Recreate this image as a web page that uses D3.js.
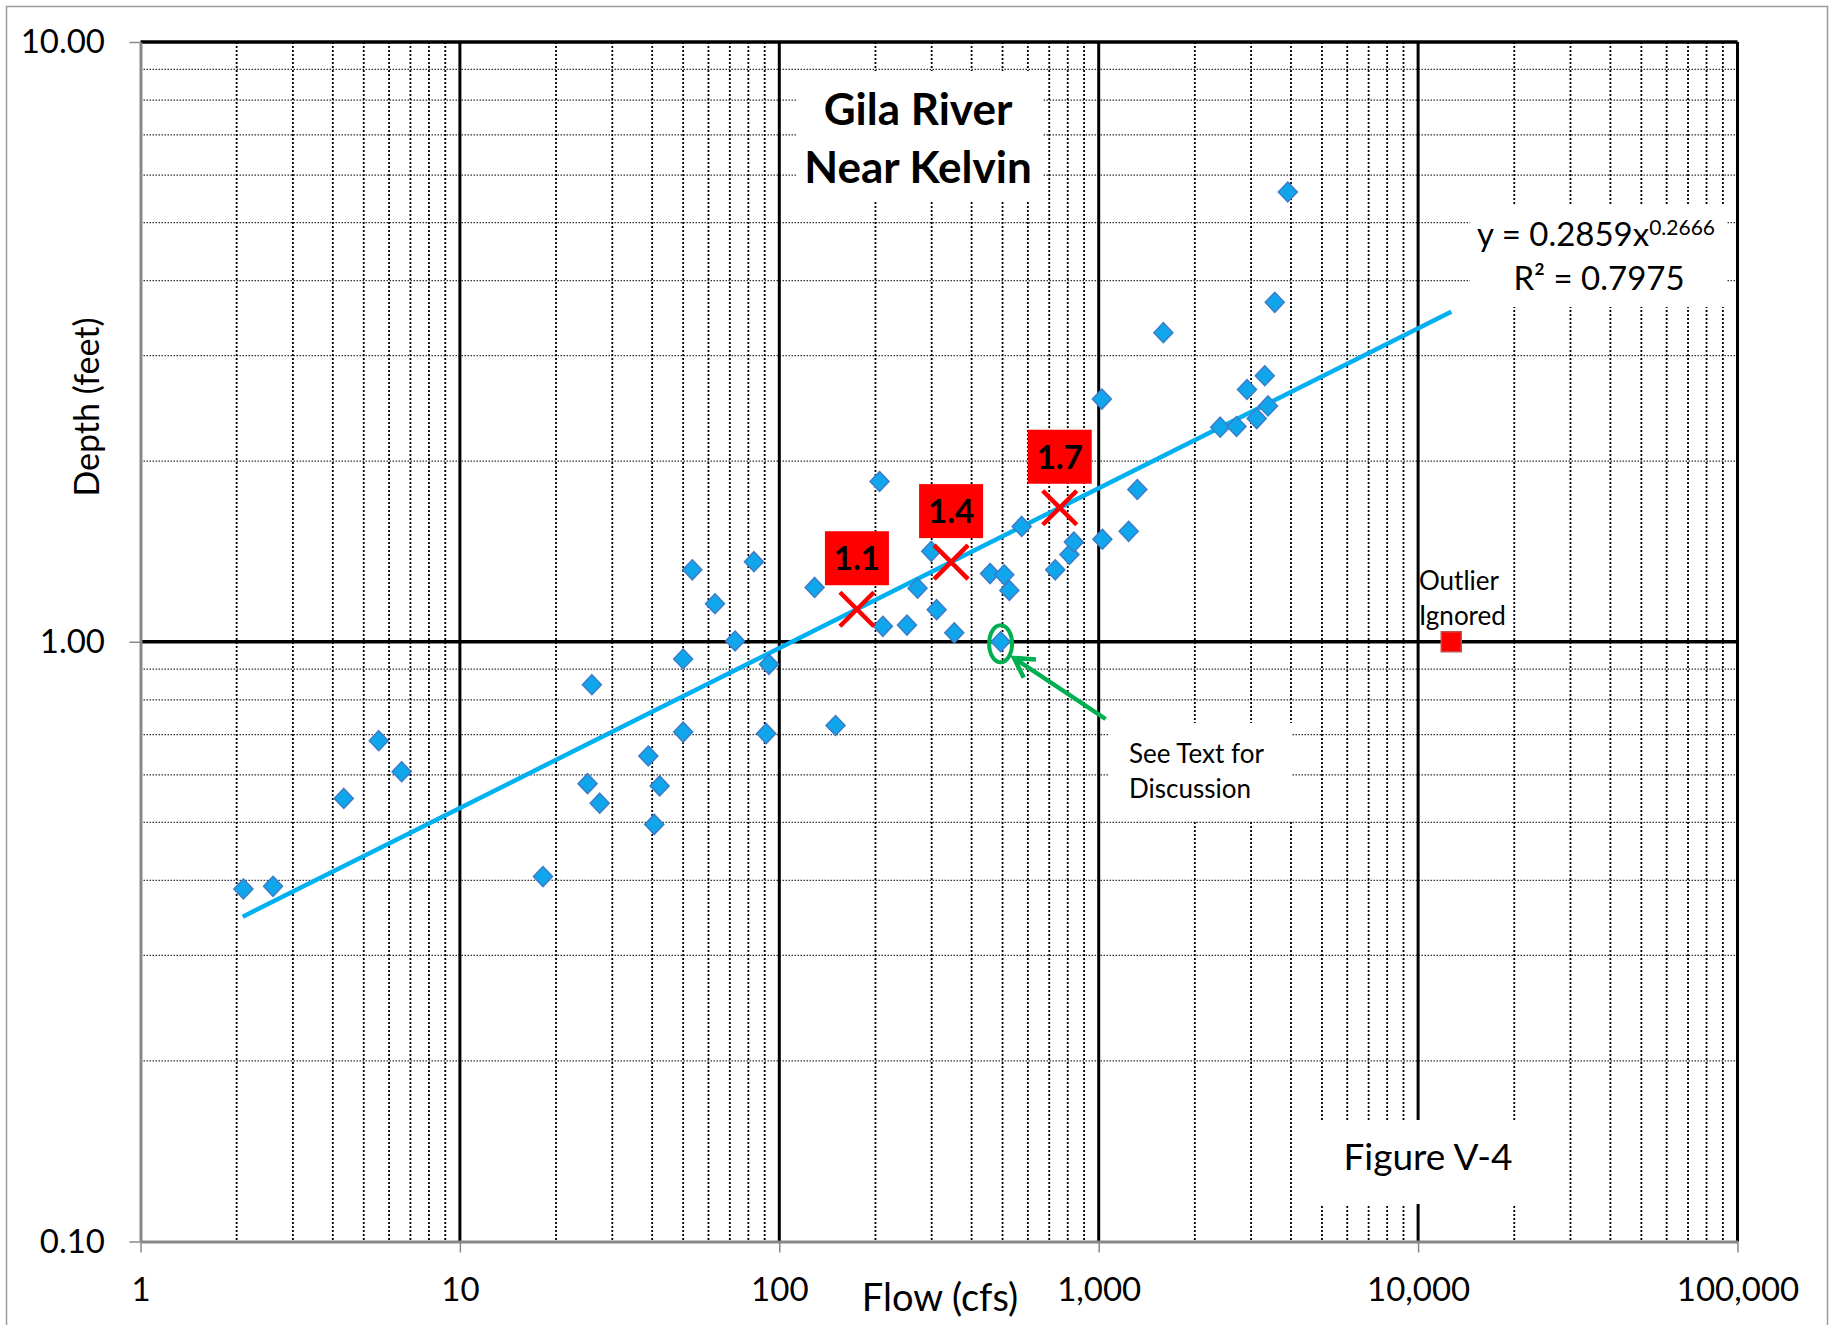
<!DOCTYPE html>
<html>
<head>
<meta charset="utf-8">
<script src="https://cdn.jsdelivr.net/npm/d3@7"></script>
<style>
body { margin: 0; background: #fff; }
text { font-family: Lato, "Open Sans", sans-serif; fill: #000; }
</style>
</head>
<body>
<script>
// measured flows (cfs) and depths (ft)
let flow = [2.10, 2.60, 4.33, 5.57, 6.57, 18.2, 25.1, 25.9, 27.4, 38.9,
    40.6, 42.2, 50.0, 50.0, 53.4, 62.9, 72.7, 83.3, 91.0, 92.8,
    129, 150, 206, 211, 251, 271, 299, 311, 353, 457,
    493, 506, 525, 574, 731, 810, 836, 1027, 1023, 1241,
    1321, 2401, 2701, 2913, 3124, 3311, 3389, 1594, 3558, 3909];
let depth = [0.387, 0.391, 0.548, 0.684, 0.607, 0.406, 0.580, 0.848, 0.538, 0.645,
    0.496, 0.575, 0.936, 0.707, 1.318, 1.157, 1.003, 1.360, 0.703, 0.917,
    1.232, 0.725, 1.850, 1.061, 1.066, 1.228, 1.415, 1.131, 1.035, 1.299,
    1.000, 1.293, 1.218, 1.557, 1.318, 1.398, 1.466, 1.482, 2.539, 1.528,
    1.794, 2.279, 2.285, 2.634, 2.356, 2.777, 2.473, 3.276, 3.681, 5.622];

// red X marks on the trend line
let markFlow = [175, 345, 755];
let markLabels = ["1.1", "1.4", "1.7"];

let outlierFlow = [12700];
let outlierDepth = [1.0];

// power trend line y = a x^b
let fitA = 0.2859, fitB = 0.2666;
let fitRange = [2.09, 12700];

let xTicks = [1, 10, 100, 1000, 10000, 100000];
let yTicks = [0.1, 1, 10];

let svg = d3.select("body").append("svg").attr("width", 1834).attr("height", 1325);

let x = d3.scaleLog().domain([1, 100000]).range([140.5, 1737.5]);
let y = d3.scaleLog().domain([0.1, 10]).range([1241.5, 42]);

svg.append("rect").attr("x", 6.5).attr("y", 6.5).attr("width", 1821).attr("height", 1340)
    .attr("fill", "#fff").attr("stroke", "#9a9a9a").attr("stroke-width", 1.5);

let isDecade = d => Math.abs(Math.log10(d) - Math.round(Math.log10(d))) < 1e-9;

// minor gridlines
svg.selectAll("line.hminor").data(y.ticks().filter(d => !isDecade(d))).enter().append("line")
    .attr("x1", 140.5).attr("x2", 1737.5)
    .attr("y1", d => y(d)).attr("y2", d => y(d))
    .attr("stroke", "#333").attr("stroke-width", 1.3).attr("stroke-dasharray", "1.5,1.5");
svg.selectAll("line.vminor").data(x.ticks().filter(d => !isDecade(d))).enter().append("line")
    .attr("x1", d => x(d)).attr("x2", d => x(d))
    .attr("y1", 42).attr("y2", 1241.5)
    .attr("stroke", "#000").attr("stroke-width", 1.8).attr("stroke-dasharray", "2,2");

// major gridlines
svg.selectAll("line.vmajor").data(xTicks.slice(1)).enter().append("line")
    .attr("x1", d => x(d)).attr("x2", d => x(d))
    .attr("y1", 42).attr("y2", 1241.5)
    .attr("stroke", "#000").attr("stroke-width", 3);
svg.selectAll("line.hmajor").data(yTicks.slice(1)).enter().append("line")
    .attr("x1", 140.5).attr("x2", 1737.5)
    .attr("y1", d => y(d)).attr("y2", d => y(d))
    .attr("stroke", "#000").attr("stroke-width", 3.5);

// white text boxes hide the grid
let boxes = [[797, 71, 245, 129], [1470, 205, 257, 102], [1300, 1120, 250, 84], [1108, 723, 184, 97]];
svg.selectAll("rect.box").data(boxes).enter().append("rect")
    .attr("x", d => d[0]).attr("y", d => d[1]).attr("width", d => d[2]).attr("height", d => d[3])
    .attr("fill", "#fff");

// axes
let xAxis = svg.append("g").attr("transform", "translate(0,1241.5)")
    .call(d3.axisBottom(x).tickValues(xTicks).tickFormat(d3.format(",")).tickSize(11).tickSizeOuter(0).tickPadding(25));
let yAxis = svg.append("g").attr("transform", "translate(140.5,0)")
    .call(d3.axisLeft(y).tickValues(yTicks).tickFormat(d3.format(".2f")).tickSize(11).tickSizeOuter(0).tickPadding(24.5));
[xAxis, yAxis].forEach(g => {
    g.select(".domain").attr("stroke", "#888").attr("stroke-width", 3);
    g.selectAll(".tick line").attr("stroke", "#888").attr("stroke-width", 1.5);
    g.selectAll(".tick text").attr("font-size", 33).attr("font-family", "Lato").attr("fill", "#000");
});

svg.append("text").attr("x", 940).attr("y", 1311).attr("text-anchor", "middle")
    .attr("font-size", 38).text("Flow (cfs)");
svg.append("text").attr("transform", "translate(99,407) rotate(-90)").attr("text-anchor", "middle")
    .attr("font-size", 34).text("Depth (feet)");

// trend line
svg.append("line")
    .attr("x1", x(fitRange[0])).attr("y1", y(fitA * Math.pow(fitRange[0], fitB)))
    .attr("x2", x(fitRange[1])).attr("y2", y(fitA * Math.pow(fitRange[1], fitB)))
    .attr("stroke", "#00b0f0").attr("stroke-width", 4.5);

// data
svg.selectAll("path.pt").data(flow).enter().append("path")
    .attr("d", "M0,-10L9.5,0L0,10L-9.5,0Z")
    .attr("transform", (d, i) => "translate(" + x(d) + "," + y(depth[i]) + ")")
    .attr("fill", "#10a6ec").attr("stroke", "#3d7cc9").attr("stroke-width", 1.5);

// outlier
svg.selectAll("rect.out").data(outlierFlow).enter().append("rect")
    .attr("x", d => x(d) - 10).attr("y", (d, i) => y(outlierDepth[i]) - 10)
    .attr("width", 20).attr("height", 20)
    .attr("fill", "#ff0000").attr("stroke", "#c0504d").attr("stroke-width", 1.5);
svg.append("text").attr("x", 1419).attr("y", 590).attr("font-size", 26).text("Outlier");
svg.append("text").attr("x", 1419).attr("y", 625).attr("font-size", 26).text("Ignored");

// X marks with labels
let mk = svg.selectAll("g.mark").data(markFlow).enter().append("g")
    .attr("transform", d => "translate(" + x(d) + "," + y(fitA * Math.pow(d, fitB)) + ")");
mk.append("path").attr("d", "M-17,-17L17,17M17,-17L-17,17")
    .attr("stroke", "#ff0000").attr("stroke-width", 4.5).attr("fill", "none");
mk.append("rect").attr("x", -32).attr("y", -78).attr("width", 64).attr("height", 54).attr("fill", "#ff0000");
mk.append("text").attr("x", 0).attr("y", -39).attr("text-anchor", "middle")
    .attr("font-size", 33).attr("font-weight", "bold").text((d, i) => markLabels[i]);

// circled point and arrow
svg.append("ellipse").attr("cx", x(493)).attr("cy", y(1.0) + 2).attr("rx", 11.5).attr("ry", 18.5)
    .attr("fill", "none").attr("stroke", "#00b050").attr("stroke-width", 4);
let tail = [1105.6, 719], tip = [1014, 658];
let dx = tail[0] - tip[0], dy = tail[1] - tip[1], len = Math.hypot(dx, dy);
let ux = dx / len, uy = dy / len, c = Math.cos(Math.PI / 6), s = Math.sin(Math.PI / 6);
let arm1 = [tip[0] + 22 * (ux * c - uy * s), tip[1] + 22 * (ux * s + uy * c)];
let arm2 = [tip[0] + 22 * (ux * c + uy * s), tip[1] + 22 * (-ux * s + uy * c)];
svg.append("path")
    .attr("d", "M" + tail + "L" + tip + "M" + arm1 + "L" + tip + "L" + arm2)
    .attr("stroke", "#00b050").attr("stroke-width", 4.5).attr("fill", "none");
svg.append("text").attr("x", 1129).attr("y", 763).attr("font-size", 26).text("See Text for");
svg.append("text").attr("x", 1129).attr("y", 798).attr("font-size", 26).text("Discussion");

// title
svg.append("text").attr("x", 918).attr("y", 125).attr("text-anchor", "middle")
    .attr("font-size", 44).attr("font-weight", "bold").text("Gila River");
svg.append("text").attr("x", 918).attr("y", 183).attr("text-anchor", "middle")
    .attr("font-size", 44).attr("font-weight", "bold").text("Near Kelvin");

// equation
let eq = svg.append("text").attr("x", 1477).attr("y", 246).attr("font-size", 33);
eq.append("tspan").text("y = 0.2859x");
eq.append("tspan").attr("font-size", 21).attr("dy", -11).text("0.2666");
svg.append("text").attr("x", 1599).attr("y", 290).attr("text-anchor", "middle")
    .attr("font-size", 33).text("R² = 0.7975");

svg.append("text").attr("x", 1428).attr("y", 1170).attr("text-anchor", "middle")
    .attr("font-size", 37).text("Figure V-4");
</script>
</body>
</html>
